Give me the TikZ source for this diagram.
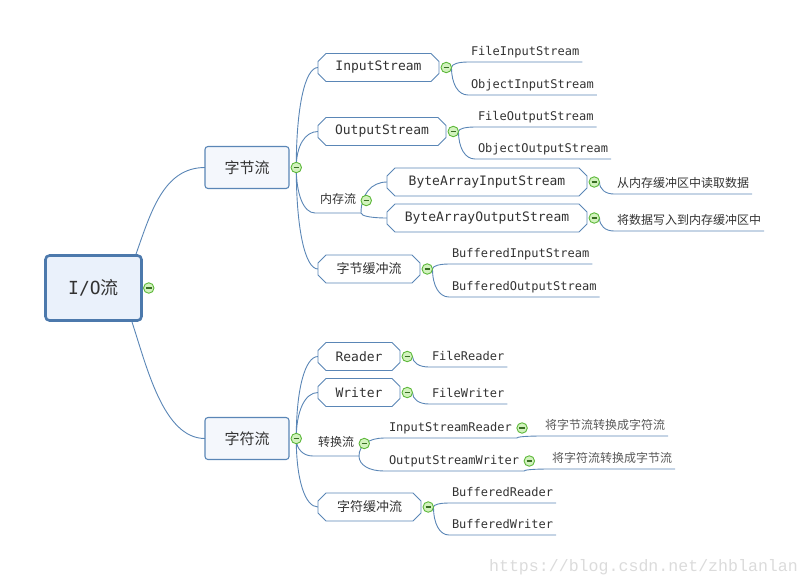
\documentclass[tikz,border=0pt]{standalone}
\usepackage{fontspec}
\newfontfamily\codefont{DejaVu Sans Mono}
\newfontfamily\cjkfont{Noto Sans CJK SC}
\newfontfamily\markfont{Liberation Mono}
\usetikzlibrary{calc,positioning,shapes.misc,backgrounds}
\definecolor{linec}{HTML}{5A86B6}
\definecolor{rootline}{HTML}{4C79AC}
\definecolor{rootfill}{HTML}{EAF1FB}
\definecolor{topicfill}{HTML}{F4F7FC}
\definecolor{foldfill}{HTML}{D2F2BE}
\definecolor{foldline}{HTML}{5DB83A}
\definecolor{inkc}{HTML}{333333}

\begin{document}
\begin{tikzpicture}[x=1pt,y=-1pt,node distance=2pt,outer sep=0pt]
  \tikzstyle{root}=[draw=rootline,line width=2.6pt,rounded corners=4pt,fill=rootfill,minimum width=96pt,minimum height=65pt,font=\fontsize{18}{20}\selectfont,text=inkc]
  \tikzstyle{topic}=[draw=linec,line width=1.1pt,rounded corners=3pt,fill=topicfill,minimum width=84pt,minimum height=42pt,font=\cjkfont\fontsize{15}{18}\selectfont,text=inkc]
  \tikzstyle{sub}=[chamfered rectangle,chamfered rectangle xsep=4pt,chamfered rectangle ysep=4pt,draw=linec,line width=0.9pt,fill=white,inner sep=0pt,minimum height=28pt,font=\codefont\fontsize{13}{15}\selectfont,text=inkc]
  \tikzstyle{leaf}=[anchor=south west,inner xsep=3pt,inner ysep=4pt,text height=9pt,text depth=3pt,font=\codefont\fontsize{12}{14}\selectfont,text=inkc]
  \tikzstyle{note}=[leaf,font=\cjkfont\fontsize{12}{14}\selectfont]
  \tikzstyle{tag}=[leaf,inner xsep=5pt,inner ysep=6.5pt,font=\cjkfont\fontsize{12}{14}\selectfont]
  \tikzstyle{fold}=[circle,draw=foldline,line width=0.9pt,fill=foldfill,minimum size=10.5pt,inner sep=0pt,path picture={\draw[foldline!60!black,line width=1.1pt] ([xshift=2.5pt]path picture bounding box.west) -- ([xshift=-2.5pt]path picture bounding box.east);}]
  \tikzstyle{under}=[draw=linec,line width=0.9pt]
  \tikzstyle{branch}=[under,to path={.. controls ($(\tikztostart)!0.6!(\tikztostart|-\tikztotarget)$) and ($(\tikztotarget)!0.6!(\tikztostart|-\tikztotarget)$) .. (\tikztotarget)}]
  \useasboundingbox (0,0) rectangle (810,587);

  % root and main topics
  \node[root] (io) at (93.5,288) {{\codefont I/O}{\cjkfont 流}};
  \node[fold,right=2pt of io] (fio) {};
  \node[topic] (bytes) at (247,167.5) {字节流};
  \node[fold,right=2pt of bytes] (fb) {};
  \node[topic] (chars) at (247,438.5) {字符流};
  \node[fold,right=2pt of chars] (fc) {};

  % byte streams
  \node[sub,minimum width=121pt] (ins) at (378.5,67.5) {InputStream};
  \node[fold,right=2pt of ins] (fi) {};
  \node[leaf] (fis) at (468,62) {FileInputStream};
  \node[leaf] (ois) at (468,95) {ObjectInputStream};
  \node[sub,minimum width=128pt] (outs) at (382,131.5) {OutputStream};
  \node[fold,right=2pt of outs] (fo) {};
  \node[leaf] (fos) at (475,127) {FileOutputStream};
  \node[leaf] (oos) at (475,159) {ObjectOutputStream};
  \node[tag] (mem) at (315,213) {内存流};
  \node[fold,right=0pt of mem] (fm) {};
  \node[sub,minimum width=200pt] (bais) at (487,182) {ByteArrayInputStream};
  \node[fold,right=2pt of bais] (fbi) {};
  \node[note] (readmem) at (614,194) {从内存缓冲区中读取数据};
  \node[sub,minimum width=200pt] (baos) at (487,218) {ByteArrayOutputStream};
  \node[fold,right=2pt of baos] (fbo) {};
  \node[note] (writemem) at (614,231) {将数据写入到内存缓冲区中};
  \node[sub,minimum width=102pt,font=\cjkfont\fontsize{13}{15}\selectfont] (bbuf) at (369,269) {字节缓冲流};
  \node[fold,right=2pt of bbuf] (fbb) {};
  \node[leaf] (bis) at (449,264) {BufferedInputStream};
  \node[leaf] (bos) at (449,297) {BufferedOutputStream};

  % char streams
  \node[sub,minimum width=82pt] (rd) at (359,356.5) {Reader};
  \node[fold,right=2pt of rd] (fr) {};
  \node[leaf] (frd) at (429,367) {FileReader};
  \node[sub,minimum width=82pt] (wr) at (359,392.5) {Writer};
  \node[fold,right=2pt of wr] (fw) {};
  \node[leaf] (fwr) at (429,404) {FileWriter};
  \node[tag] (conv) at (313,456) {转换流};
  \node[fold,right=0pt of conv] (fcv) {};
  \node[leaf,inner xsep=5pt] (isr) at (384,438) {InputStreamReader};
  \node[fold,right=0pt of isr] (fisr) {};
  \node[note,text=black!65] (tochars) at (542,436) {将字节流转换成字符流};
  \node[leaf,inner xsep=5pt] (osw) at (384,471) {OutputStreamWriter};
  \node[fold,right=0pt of osw] (fosw) {};
  \node[note,text=black!65] (tobytes) at (549,469) {将字符流转换成字节流};
  \node[sub,minimum width=103pt,font=\cjkfont\fontsize{13}{15}\selectfont] (cbuf) at (369.5,507) {字符缓冲流};
  \node[fold,right=2pt of cbuf] (fcb) {};
  \node[leaf] (brd) at (449,503) {BufferedReader};
  \node[leaf] (bwr) at (449,535) {BufferedWriter};

  \node[font=\markfont\fontsize{16.6}{18}\selectfont,text=black!14] (mark) at (643.5,567) {https://blog.csdn.net/zhblanlan};

  \begin{scope}[on background layer]
    \draw[under] ([xshift=-6pt]io.north east) .. controls +(15,-42) and +(-42,0) .. (bytes.west);
    \draw[under] ([xshift=-10pt]io.south east) .. controls +(15,45) and +(-42,0) .. (chars.west);
    % byte side
    \draw[branch] (fb.center) to (ins.west);
    \draw[branch] (fb.center) to (outs.west);
    \draw[branch] (fb.center) to (mem.south west) -- (mem.south east);
    \draw[branch] (fb.center) to (bbuf.west);
    \draw[branch] (fi.east) to (fis.south west) -- (fis.south east);
    \draw[branch] (fi.east) to (ois.south west) -- (ois.south east);
    \draw[branch] (fo.east) to (fos.south west) -- (fos.south east);
    \draw[branch] (fo.east) to (oos.south west) -- (oos.south east);
    \draw[branch] (mem.south east) to (bais.west);
    \draw[branch] (mem.south east) to (baos.west);
    \draw[branch] (fbi.east) to (readmem.south west) -- (readmem.south east);
    \draw[branch] (fbo.east) to (writemem.south west) -- (writemem.south east);
    \draw[branch] (fbb.east) to (bis.south west) -- (bis.south east);
    \draw[branch] (fbb.east) to (bos.south west) -- (bos.south east);
    % char side
    \draw[branch] (fc.center) to (rd.west);
    \draw[branch] (fc.center) to (wr.west);
    \draw[branch] (fc.center) to (conv.south west) -- (conv.south east);
    \draw[branch] (fc.center) to (cbuf.west);
    \draw[branch] (fr.east) to (frd.south west) -- (frd.south east);
    \draw[branch] (fw.east) to (fwr.south west) -- (fwr.south east);
    \draw[branch] (conv.south east) to (isr.south west) -- (isr.south east);
    \draw[branch] (conv.south east) to (osw.south west) -- (osw.south east);
    \draw[branch] (isr.south east) to (tochars.south west) -- (tochars.south east);
    \draw[branch] (osw.south east) to (tobytes.south west) -- (tobytes.south east);
    \draw[branch] (fcb.east) to (brd.south west) -- (brd.south east);
    \draw[branch] (fcb.east) to (bwr.south west) -- (bwr.south east);
  \end{scope}
\end{tikzpicture}
\end{document}
